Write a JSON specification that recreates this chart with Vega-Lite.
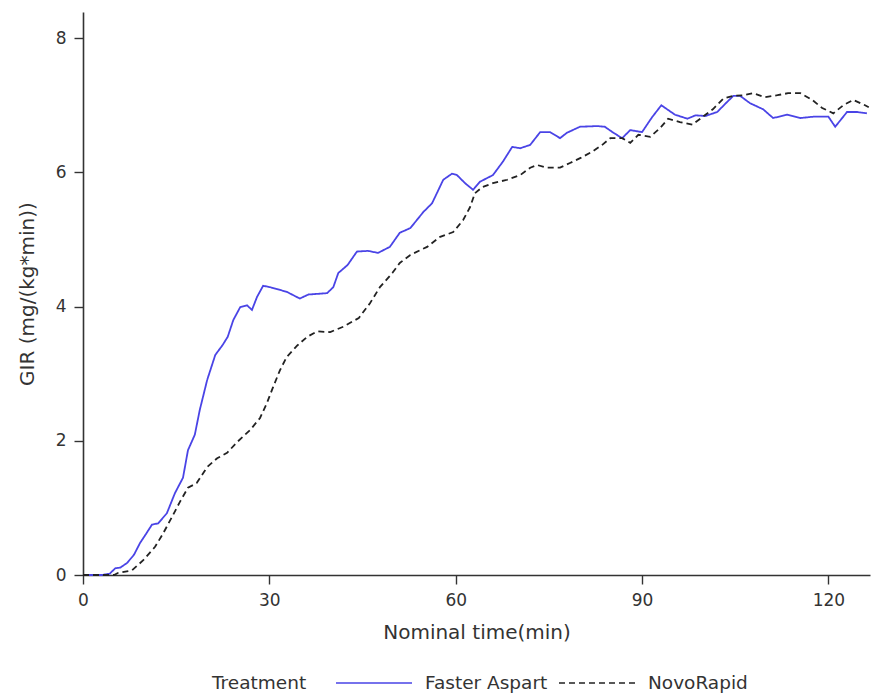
{
  "$schema": "https://vega.github.io/schema/vega-lite/v6.json",
  "width": 787,
  "height": 563,
  "autosize": {"type": "none"},
  "padding": {"left": 83, "top": 12, "right": 7, "bottom": 120},
  "background": "white",
  "config": {
    "view": {"stroke": null},
    "font": "DejaVu Sans",
    "axis": {
      "grid": false,
      "domainColor": "#333333",
      "domainWidth": 1.6,
      "tickColor": "#333333",
      "tickWidth": 1.4,
      "tickSize": 9,
      "labelColor": "#333333",
      "labelFont": "DejaVu Sans",
      "labelFontSize": 17,
      "labelPadding": 8,
      "labelFlush": false,
      "titleColor": "#333333",
      "titleFont": "DejaVu Sans",
      "titleFontSize": 20,
      "titleFontWeight": "normal"
    }
  },
  "data": {
    "values": [
      {"t": 0, "gir": 0, "Treatment": "Faster Aspart"},
      {"t": 3, "gir": 0, "Treatment": "Faster Aspart"},
      {"t": 4.3, "gir": 0.02, "Treatment": "Faster Aspart"},
      {"t": 5.2, "gir": 0.1, "Treatment": "Faster Aspart"},
      {"t": 6, "gir": 0.11, "Treatment": "Faster Aspart"},
      {"t": 7.1, "gir": 0.18, "Treatment": "Faster Aspart"},
      {"t": 8.2, "gir": 0.3, "Treatment": "Faster Aspart"},
      {"t": 9.2, "gir": 0.48, "Treatment": "Faster Aspart"},
      {"t": 10.2, "gir": 0.62, "Treatment": "Faster Aspart"},
      {"t": 11.1, "gir": 0.75, "Treatment": "Faster Aspart"},
      {"t": 12.1, "gir": 0.77, "Treatment": "Faster Aspart"},
      {"t": 13.5, "gir": 0.92, "Treatment": "Faster Aspart"},
      {"t": 14.8, "gir": 1.22, "Treatment": "Faster Aspart"},
      {"t": 16.1, "gir": 1.45, "Treatment": "Faster Aspart"},
      {"t": 16.9, "gir": 1.86, "Treatment": "Faster Aspart"},
      {"t": 18, "gir": 2.09, "Treatment": "Faster Aspart"},
      {"t": 18.8, "gir": 2.46, "Treatment": "Faster Aspart"},
      {"t": 20, "gir": 2.91, "Treatment": "Faster Aspart"},
      {"t": 21.3, "gir": 3.28, "Treatment": "Faster Aspart"},
      {"t": 22.5, "gir": 3.43, "Treatment": "Faster Aspart"},
      {"t": 23.3, "gir": 3.55, "Treatment": "Faster Aspart"},
      {"t": 24.2, "gir": 3.8, "Treatment": "Faster Aspart"},
      {"t": 25.3, "gir": 3.99, "Treatment": "Faster Aspart"},
      {"t": 26.4, "gir": 4.02, "Treatment": "Faster Aspart"},
      {"t": 27.2, "gir": 3.95, "Treatment": "Faster Aspart"},
      {"t": 28, "gir": 4.14, "Treatment": "Faster Aspart"},
      {"t": 29, "gir": 4.31, "Treatment": "Faster Aspart"},
      {"t": 30.1, "gir": 4.29, "Treatment": "Faster Aspart"},
      {"t": 32.8, "gir": 4.22, "Treatment": "Faster Aspart"},
      {"t": 34.9, "gir": 4.12, "Treatment": "Faster Aspart"},
      {"t": 36.3, "gir": 4.18, "Treatment": "Faster Aspart"},
      {"t": 39.3, "gir": 4.2, "Treatment": "Faster Aspart"},
      {"t": 40.3, "gir": 4.29, "Treatment": "Faster Aspart"},
      {"t": 41.1, "gir": 4.5, "Treatment": "Faster Aspart"},
      {"t": 42.6, "gir": 4.62, "Treatment": "Faster Aspart"},
      {"t": 44.1, "gir": 4.82, "Treatment": "Faster Aspart"},
      {"t": 45.9, "gir": 4.83, "Treatment": "Faster Aspart"},
      {"t": 47.5, "gir": 4.8, "Treatment": "Faster Aspart"},
      {"t": 49.4, "gir": 4.89, "Treatment": "Faster Aspart"},
      {"t": 51, "gir": 5.1, "Treatment": "Faster Aspart"},
      {"t": 52.7, "gir": 5.17, "Treatment": "Faster Aspart"},
      {"t": 54.8, "gir": 5.41, "Treatment": "Faster Aspart"},
      {"t": 56.2, "gir": 5.54, "Treatment": "Faster Aspart"},
      {"t": 58, "gir": 5.89, "Treatment": "Faster Aspart"},
      {"t": 59.4, "gir": 5.98, "Treatment": "Faster Aspart"},
      {"t": 60.2, "gir": 5.96, "Treatment": "Faster Aspart"},
      {"t": 61.5, "gir": 5.84, "Treatment": "Faster Aspart"},
      {"t": 62.8, "gir": 5.74, "Treatment": "Faster Aspart"},
      {"t": 63.9, "gir": 5.86, "Treatment": "Faster Aspart"},
      {"t": 66, "gir": 5.96, "Treatment": "Faster Aspart"},
      {"t": 67.6, "gir": 6.16, "Treatment": "Faster Aspart"},
      {"t": 69.1, "gir": 6.38, "Treatment": "Faster Aspart"},
      {"t": 70.4, "gir": 6.36, "Treatment": "Faster Aspart"},
      {"t": 72, "gir": 6.41, "Treatment": "Faster Aspart"},
      {"t": 73.6, "gir": 6.6, "Treatment": "Faster Aspart"},
      {"t": 75.2, "gir": 6.6, "Treatment": "Faster Aspart"},
      {"t": 76.8, "gir": 6.51, "Treatment": "Faster Aspart"},
      {"t": 77.9, "gir": 6.59, "Treatment": "Faster Aspart"},
      {"t": 80, "gir": 6.68, "Treatment": "Faster Aspart"},
      {"t": 82.8, "gir": 6.69, "Treatment": "Faster Aspart"},
      {"t": 84, "gir": 6.68, "Treatment": "Faster Aspart"},
      {"t": 85.4, "gir": 6.59, "Treatment": "Faster Aspart"},
      {"t": 86.8, "gir": 6.51, "Treatment": "Faster Aspart"},
      {"t": 88.1, "gir": 6.63, "Treatment": "Faster Aspart"},
      {"t": 90, "gir": 6.6, "Treatment": "Faster Aspart"},
      {"t": 91.6, "gir": 6.82, "Treatment": "Faster Aspart"},
      {"t": 93.1, "gir": 7.0, "Treatment": "Faster Aspart"},
      {"t": 94.2, "gir": 6.93, "Treatment": "Faster Aspart"},
      {"t": 95.3, "gir": 6.86, "Treatment": "Faster Aspart"},
      {"t": 97.3, "gir": 6.8, "Treatment": "Faster Aspart"},
      {"t": 98.6, "gir": 6.85, "Treatment": "Faster Aspart"},
      {"t": 100.2, "gir": 6.84, "Treatment": "Faster Aspart"},
      {"t": 102.1, "gir": 6.9, "Treatment": "Faster Aspart"},
      {"t": 103.7, "gir": 7.05, "Treatment": "Faster Aspart"},
      {"t": 104.7, "gir": 7.14, "Treatment": "Faster Aspart"},
      {"t": 105.8, "gir": 7.14, "Treatment": "Faster Aspart"},
      {"t": 107.4, "gir": 7.03, "Treatment": "Faster Aspart"},
      {"t": 109.5, "gir": 6.94, "Treatment": "Faster Aspart"},
      {"t": 111.1, "gir": 6.81, "Treatment": "Faster Aspart"},
      {"t": 113.4, "gir": 6.86, "Treatment": "Faster Aspart"},
      {"t": 115.5, "gir": 6.81, "Treatment": "Faster Aspart"},
      {"t": 117.6, "gir": 6.83, "Treatment": "Faster Aspart"},
      {"t": 120, "gir": 6.83, "Treatment": "Faster Aspart"},
      {"t": 121.1, "gir": 6.68, "Treatment": "Faster Aspart"},
      {"t": 123, "gir": 6.9, "Treatment": "Faster Aspart"},
      {"t": 124.6, "gir": 6.9, "Treatment": "Faster Aspart"},
      {"t": 126.2, "gir": 6.88, "Treatment": "Faster Aspart"},

      {"t": 0, "gir": 0, "Treatment": "NovoRapid"},
      {"t": 5, "gir": 0, "Treatment": "NovoRapid"},
      {"t": 5.6, "gir": 0.03, "Treatment": "NovoRapid"},
      {"t": 7.9, "gir": 0.07, "Treatment": "NovoRapid"},
      {"t": 9.7, "gir": 0.22, "Treatment": "NovoRapid"},
      {"t": 11.6, "gir": 0.42, "Treatment": "NovoRapid"},
      {"t": 12.9, "gir": 0.62, "Treatment": "NovoRapid"},
      {"t": 14.3, "gir": 0.86, "Treatment": "NovoRapid"},
      {"t": 15.6, "gir": 1.09, "Treatment": "NovoRapid"},
      {"t": 16.9, "gir": 1.3, "Treatment": "NovoRapid"},
      {"t": 18.3, "gir": 1.37, "Treatment": "NovoRapid"},
      {"t": 20, "gir": 1.61, "Treatment": "NovoRapid"},
      {"t": 21.6, "gir": 1.74, "Treatment": "NovoRapid"},
      {"t": 23.2, "gir": 1.82, "Treatment": "NovoRapid"},
      {"t": 24.8, "gir": 1.98, "Treatment": "NovoRapid"},
      {"t": 26.9, "gir": 2.16, "Treatment": "NovoRapid"},
      {"t": 28.5, "gir": 2.34, "Treatment": "NovoRapid"},
      {"t": 29.6, "gir": 2.56, "Treatment": "NovoRapid"},
      {"t": 30.6, "gir": 2.8, "Treatment": "NovoRapid"},
      {"t": 31.7, "gir": 3.05, "Treatment": "NovoRapid"},
      {"t": 32.8, "gir": 3.25, "Treatment": "NovoRapid"},
      {"t": 34.5, "gir": 3.42, "Treatment": "NovoRapid"},
      {"t": 36.1, "gir": 3.55, "Treatment": "NovoRapid"},
      {"t": 37.7, "gir": 3.63, "Treatment": "NovoRapid"},
      {"t": 39.8, "gir": 3.62, "Treatment": "NovoRapid"},
      {"t": 41.9, "gir": 3.7, "Treatment": "NovoRapid"},
      {"t": 44.4, "gir": 3.83, "Treatment": "NovoRapid"},
      {"t": 46.2, "gir": 4.05, "Treatment": "NovoRapid"},
      {"t": 47.8, "gir": 4.29, "Treatment": "NovoRapid"},
      {"t": 49.8, "gir": 4.5, "Treatment": "NovoRapid"},
      {"t": 51, "gir": 4.65, "Treatment": "NovoRapid"},
      {"t": 52.7, "gir": 4.77, "Treatment": "NovoRapid"},
      {"t": 55.4, "gir": 4.89, "Treatment": "NovoRapid"},
      {"t": 57.5, "gir": 5.04, "Treatment": "NovoRapid"},
      {"t": 59.6, "gir": 5.11, "Treatment": "NovoRapid"},
      {"t": 61.2, "gir": 5.29, "Treatment": "NovoRapid"},
      {"t": 62.3, "gir": 5.48, "Treatment": "NovoRapid"},
      {"t": 63.1, "gir": 5.69, "Treatment": "NovoRapid"},
      {"t": 64.3, "gir": 5.78, "Treatment": "NovoRapid"},
      {"t": 66, "gir": 5.84, "Treatment": "NovoRapid"},
      {"t": 68.3, "gir": 5.89, "Treatment": "NovoRapid"},
      {"t": 70.4, "gir": 5.96, "Treatment": "NovoRapid"},
      {"t": 72, "gir": 6.07, "Treatment": "NovoRapid"},
      {"t": 73.1, "gir": 6.11, "Treatment": "NovoRapid"},
      {"t": 74.7, "gir": 6.07, "Treatment": "NovoRapid"},
      {"t": 76.8, "gir": 6.07, "Treatment": "NovoRapid"},
      {"t": 78.4, "gir": 6.14, "Treatment": "NovoRapid"},
      {"t": 80.2, "gir": 6.22, "Treatment": "NovoRapid"},
      {"t": 82, "gir": 6.31, "Treatment": "NovoRapid"},
      {"t": 83.6, "gir": 6.41, "Treatment": "NovoRapid"},
      {"t": 84.9, "gir": 6.51, "Treatment": "NovoRapid"},
      {"t": 86.8, "gir": 6.51, "Treatment": "NovoRapid"},
      {"t": 88.1, "gir": 6.44, "Treatment": "NovoRapid"},
      {"t": 89.4, "gir": 6.56, "Treatment": "NovoRapid"},
      {"t": 91.3, "gir": 6.53, "Treatment": "NovoRapid"},
      {"t": 92.9, "gir": 6.66, "Treatment": "NovoRapid"},
      {"t": 94.2, "gir": 6.8, "Treatment": "NovoRapid"},
      {"t": 96.1, "gir": 6.75, "Treatment": "NovoRapid"},
      {"t": 98.1, "gir": 6.71, "Treatment": "NovoRapid"},
      {"t": 99.8, "gir": 6.83, "Treatment": "NovoRapid"},
      {"t": 101.4, "gir": 6.94, "Treatment": "NovoRapid"},
      {"t": 103.1, "gir": 7.1, "Treatment": "NovoRapid"},
      {"t": 104.7, "gir": 7.14, "Treatment": "NovoRapid"},
      {"t": 106.3, "gir": 7.15, "Treatment": "NovoRapid"},
      {"t": 107.9, "gir": 7.18, "Treatment": "NovoRapid"},
      {"t": 109.8, "gir": 7.12, "Treatment": "NovoRapid"},
      {"t": 111.8, "gir": 7.15, "Treatment": "NovoRapid"},
      {"t": 113.5, "gir": 7.18, "Treatment": "NovoRapid"},
      {"t": 115.5, "gir": 7.18, "Treatment": "NovoRapid"},
      {"t": 117.4, "gir": 7.08, "Treatment": "NovoRapid"},
      {"t": 119, "gir": 6.96, "Treatment": "NovoRapid"},
      {"t": 120.8, "gir": 6.88, "Treatment": "NovoRapid"},
      {"t": 122.4, "gir": 7.0, "Treatment": "NovoRapid"},
      {"t": 124, "gir": 7.08, "Treatment": "NovoRapid"},
      {"t": 125.9, "gir": 7.0, "Treatment": "NovoRapid"},
      {"t": 126.5, "gir": 6.97, "Treatment": "NovoRapid"}
    ]
  },
  "mark": {"type": "line", "strokeWidth": 1.8, "interpolate": "linear"},
  "encoding": {
    "x": {
      "field": "t",
      "type": "quantitative",
      "title": "Nominal time(min)",
      "scale": {"domain": [0, 126.7], "nice": false, "zero": false},
      "axis": {"values": [0, 30, 60, 90, 120], "titlePadding": 14}
    },
    "y": {
      "field": "gir",
      "type": "quantitative",
      "title": "GIR (mg/(kg*min))",
      "scale": {"domain": [0, 8.39], "nice": false},
      "axis": {"values": [0, 2, 4, 6, 8], "titlePadding": 18}
    },
    "color": {
      "field": "Treatment",
      "type": "nominal",
      "scale": {"domain": ["Faster Aspart", "NovoRapid"], "range": ["#4a44e6", "#222222"]},
      "legend": {
        "orient": "none",
        "legendX": 129,
        "legendY": 660,
        "direction": "horizontal",
        "titleOrient": "left",
        "titleFont": "DejaVu Sans",
        "titleFontSize": 18.5,
        "titleFontWeight": "normal",
        "titleColor": "#333333",
        "titlePadding": 28,
        "labelFont": "DejaVu Sans",
        "labelFontSize": 18.5,
        "labelColor": "#333333",
        "labelOffset": 12,
        "symbolType": "stroke",
        "symbolSize": 5776,
        "symbolStrokeWidth": 1.6,
        "clipHeight": 22,
        "columnPadding": 10
      }
    },
    "strokeDash": {
      "field": "Treatment",
      "type": "nominal",
      "scale": {"domain": ["Faster Aspart", "NovoRapid"], "range": [[1, 0], [6, 4]]}
    }
  }
}
